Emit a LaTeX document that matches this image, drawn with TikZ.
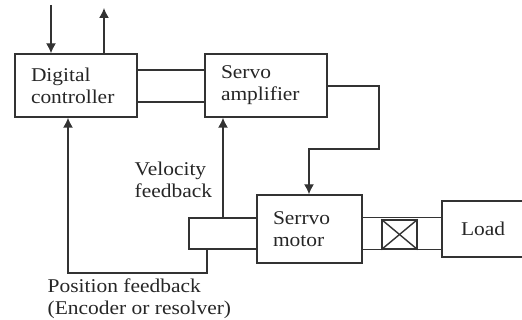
\documentclass[tikz,border=0pt]{standalone}
\usepackage{fontspec}
\setmainfont{Liberation Serif}[FakeStretch=1.1]
\usetikzlibrary{arrows.meta,calc}
\begin{document}
\begin{tikzpicture}[x=1pt,y=-1pt,
  line width=1.4pt, draw=black!80,
  txt/.style={font=\fontsize{19.5}{22}\selectfont, align=left, inner sep=0pt, text=black!85},
  blk/.style={txt, draw, rectangle, inner ysep=0pt, inner xsep=16pt},
  arr/.style={-{Latex[length=10pt,width=10pt]}}]
\useasboundingbox (0,0) rectangle (522,320);
\clip (0,0) rectangle (522,320);
% blocks
\node[blk, text width=90pt, minimum height=63pt] (dc) at (76,85.5) {Digital\\controller};
\node[blk, text width=90pt, minimum height=63pt] (sa) at (266,85.5) {Servo\\amplifier};
\node[blk, text width=73pt, minimum height=68pt] (sm) at (309.5,229) {Serrvo\\motor};
\node[blk, inner xsep=19pt, text width=62pt, minimum height=56pt] (load) at (492,229) {Load};
\node[draw, rectangle, minimum width=68pt, minimum height=31pt, inner sep=0pt] (enc) at (223,233.5) {};
\node[draw, rectangle, minimum width=35pt, minimum height=29pt, inner sep=0pt] (cpl) at (399.5,234.5) {};
% coordinates
\coordinate (in) at (51,5);
\coordinate (out) at (104,8);
% input / output
\draw[arr] (in) -- (in |- dc.north);
\draw[arr] (dc.north -| out) -- (out);
% link between controller and amplifier
\draw (dc.east |- {(0,70)}) -- (sa.west |- {(0,70)});
\draw (dc.east |- {(0,102)}) -- (sa.west |- {(0,102)});
% amplifier -> motor
\draw[arr] (sa.east |- {(0,86)}) -- (379,86) -- (379,149) -- (309,149) -- (sm.north -| {(309,0)});
% shafts
\draw (sm.east |- enc.north) -- (load.west |- enc.north);
\draw (sm.east |- enc.south) -- (load.west |- enc.south);
% coupling cross
\draw (cpl.north west) -- (cpl.south east);
\draw (cpl.north east) -- (cpl.south west);
% velocity feedback
\draw[arr] (enc.north -| {(223,0)}) -- (sa.south -| {(223,0)});
% position feedback
\draw[arr] (enc.south -| {(207,0)}) -- (207,273) -- (68,273) -- (dc.south -| {(68,0)});
% labels
\node[txt, anchor=west] (vel) at (134,180) {Velocity\\feedback};
\node[txt, anchor=west] (pos) at (47,299) {Position feedback\\(Encoder or resolver)};
\end{tikzpicture}
\end{document}
